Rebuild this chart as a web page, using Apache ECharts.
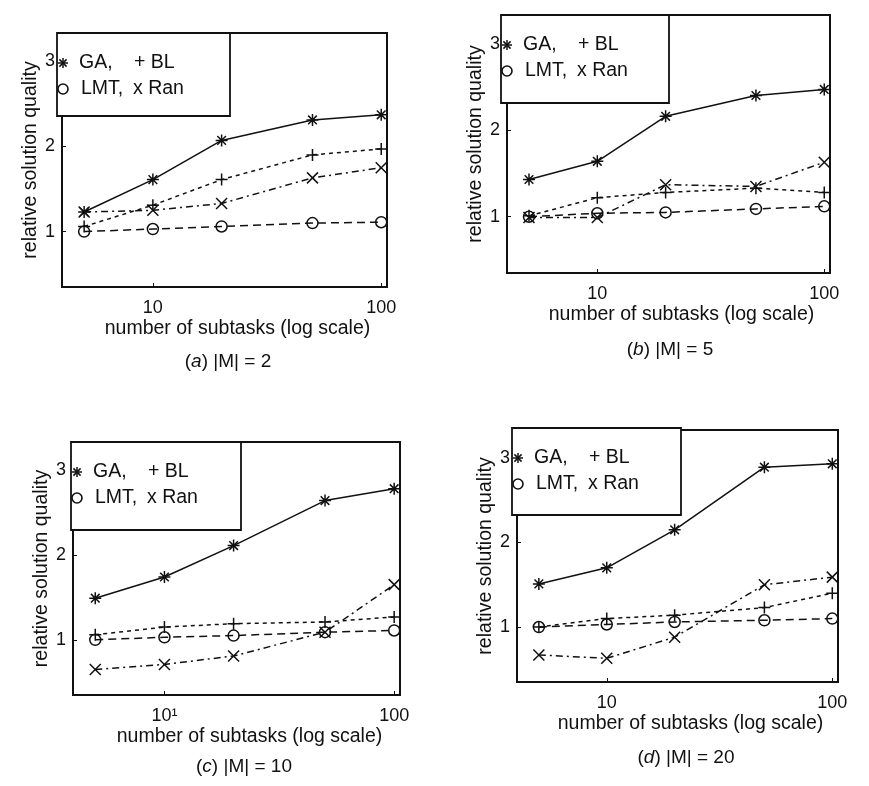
<!DOCTYPE html>
<html>
<head>
<meta charset="utf-8">
<script src="https://cdn.jsdelivr.net/npm/echarts@6/dist/echarts.min.js"></script>
<style>
html,body{margin:0;padding:0;background:#fff;}
#chart{width:869px;height:786px;}
</style>
</head>
<body>
<div id="chart"></div>
<script>
// ---------- data ----------
const subtasks = [5, 10, 20, 50, 100];
const yTicks = [1, 2, 3];
const seriesNames = ['GA', 'BL', 'LMT', 'Ran'];
const panelLetters = ['a', 'b', 'c', 'd'];
const panelM = [2, 5, 10, 20];

// panel (a) |M| = 2
const gaA  = [1.23, 1.61, 2.07, 2.31, 2.37];
const blA  = [1.06, 1.31, 1.61, 1.90, 1.97];
const lmtA = [1.00, 1.03, 1.06, 1.10, 1.11];
const ranA = [1.23, 1.25, 1.33, 1.63, 1.75];
// panel (b) |M| = 5
const gaB  = [1.43, 1.64, 2.16, 2.40, 2.47];
const blB  = [1.01, 1.22, 1.28, 1.33, 1.28];
const lmtB = [1.00, 1.04, 1.05, 1.09, 1.12];
const ranB = [0.99, 0.99, 1.37, 1.35, 1.63];
// panel (c) |M| = 10
const gaC  = [1.49, 1.74, 2.11, 2.64, 2.78];
const blC  = [1.06, 1.15, 1.19, 1.21, 1.27];
const lmtC = [1.00, 1.03, 1.05, 1.09, 1.11];
const ranC = [0.65, 0.71, 0.81, 1.09, 1.65];
// panel (d) |M| = 20
const gaD  = [1.51, 1.70, 2.15, 2.89, 2.93];
const blD  = [1.00, 1.10, 1.14, 1.23, 1.40];
const lmtD = [1.00, 1.03, 1.06, 1.08, 1.10];
const ranD = [0.67, 0.63, 0.88, 1.50, 1.59];

const panelData = [
  [gaA, blA, lmtA, ranA],
  [gaB, blB, lmtB, ranB],
  [gaC, blC, lmtC, ranC],
  [gaD, blD, lmtD, ranD]
];

// ---------- layout / style ----------
const FONT = "'Liberation Sans', Arial, Helvetica, sans-serif";
const INK = '#111';
const layout = [
  {grid:{left:62, top:33, width:325, height:254}, box:[57,33,173,83], cap:[228,362]},
  {grid:{left:507, top:15, width:323, height:258}, box:[501,15,168,88], cap:[670,350]},
  {grid:{left:73, top:442, width:327, height:253}, box:[71,442,170,88], cap:[244,767]},
  {grid:{left:517, top:430, width:321, height:252}, box:[512,428,169,87], cap:[686,758]}
];
const STAR = 'path://M0,-5L0,5M-5,0L5,0M-3.6,-3.6L3.6,3.6M-3.6,3.6L3.6,-3.6';
const PLUS = 'path://M0,-5L0,5M-5,0L5,0';
const CROSS = 'path://M-4,-4L4,4M-4,4L4,-4';
const styles = {
  GA:  {symbol: STAR, size: 12, dash: 'solid'},
  BL:  {symbol: PLUS, size: 12, dash: [4, 4]},
  LMT: {symbol: 'circle', size: 11, dash: [8, 5]},
  Ran: {symbol: CROSS, size: 11, dash: [7, 4, 2, 4]}
};

const grids = [], xAxes = [], yAxes = [], series = [], graphics = [];

layout.forEach((L, p) => {
  grids.push(Object.assign({show: true, borderColor: INK, borderWidth: 2, backgroundColor: '#fff'}, L.grid));
  xAxes.push({
    type: 'log', logBase: 10, gridIndex: p, min: 4, max: 106,
    name: 'number of subtasks (log scale)', nameLocation: 'middle', nameGap: 32,
    nameTextStyle: {fontFamily: FONT, fontSize: 19.5, color: INK, padding: [0, 0, 0, 26]},
    axisLine: {show: false},
    axisTick: {show: true, inside: true, length: 4, lineStyle: {color: INK}},
    splitLine: {show: false},
    axisLabel: {
      fontFamily: FONT, fontSize: 18, color: INK, margin: 12,
      showMinLabel: false, showMaxLabel: false,
      formatter: v => (p === 2 && Math.round(v) === 10) ? '10\u00B9' : String(Math.round(v))
    }
  });
  yAxes.push({
    type: 'value', gridIndex: p, min: 0.35, max: 3.33,
    name: 'relative solution quality', nameLocation: 'middle', nameGap: 18,
    nameTextStyle: {fontFamily: FONT, fontSize: 19.5, color: INK},
    axisLine: {show: false},
    axisTick: {show: true, inside: true, length: 4, lineStyle: {color: INK}, customValues: yTicks},
    splitLine: {show: false},
    axisLabel: {fontFamily: FONT, fontSize: 18, color: INK, margin: 7, customValues: yTicks}
  });
  seriesNames.forEach((nm, k) => {
    const st = styles[nm];
    series.push({
      type: 'line', name: nm, xAxisIndex: p, yAxisIndex: p,
      data: subtasks.map((x, i) => [x, panelData[p][k][i]]),
      symbol: st.symbol, symbolSize: st.size, showSymbol: true,
      lineStyle: {color: INK, width: 1.5, type: st.dash},
      itemStyle: {color: 'transparent', borderColor: INK, borderWidth: 1.5},
      emphasis: {disabled: true}, animation: false, z: 3
    });
  });

  // legend box (MATLAB-style text legend)
  const [bx, by, bw, bh] = L.box;
  const r1 = by + 30, r2 = by + 56, mx = bx + 6;
  const tstyle = (x, y, t) => ({type: 'text', x: x, y: y, z: 20,
    style: {text: t, font: '19.5px ' + FONT, fill: INK, verticalAlign: 'middle', align: 'left'}});
  graphics.push({type: 'rect', z: 10, shape: {x: bx, y: by, width: bw, height: bh},
    style: {fill: '#fff', stroke: INK, lineWidth: 1.8}});
  // star marker
  [[-5,0,5,0],[0,-5,0,5],[-3.6,-3.6,3.6,3.6],[-3.6,3.6,3.6,-3.6]].forEach(s => {
    graphics.push({type: 'line', z: 20, shape: {x1: mx + s[0], y1: r1 + s[1], x2: mx + s[2], y2: r1 + s[3]},
      style: {stroke: INK, lineWidth: 1.5}});
  });
  graphics.push({type: 'circle', z: 20, shape: {cx: mx, cy: r2, r: 5},
    style: {fill: 'none', stroke: INK, lineWidth: 1.6}});
  graphics.push(tstyle(bx + 22, r1, 'GA,'));
  graphics.push(tstyle(bx + 77, r1, '+ BL'));
  graphics.push(tstyle(bx + 24, r2, 'LMT,'));
  graphics.push(tstyle(bx + 76, r2, 'x Ran'));
  // caption
  graphics.push({type: 'text', x: L.cap[0], y: L.cap[1], z: 20,
    style: {
      text: '({i|' + panelLetters[p] + '}) |M| = ' + panelM[p],
      font: '19px ' + FONT, fill: INK, align: 'center', verticalAlign: 'middle',
      rich: {i: {fontStyle: 'italic', fontSize: 19, fontFamily: FONT, fill: INK}}
    }});
});

const chart = echarts.init(document.getElementById('chart'), null, {renderer: 'canvas'});
chart.setOption({
  backgroundColor: '#fff',
  animation: false,
  grid: grids, xAxis: xAxes, yAxis: yAxes, series: series,
  graphic: graphics
});
</script>
</body>
</html>
